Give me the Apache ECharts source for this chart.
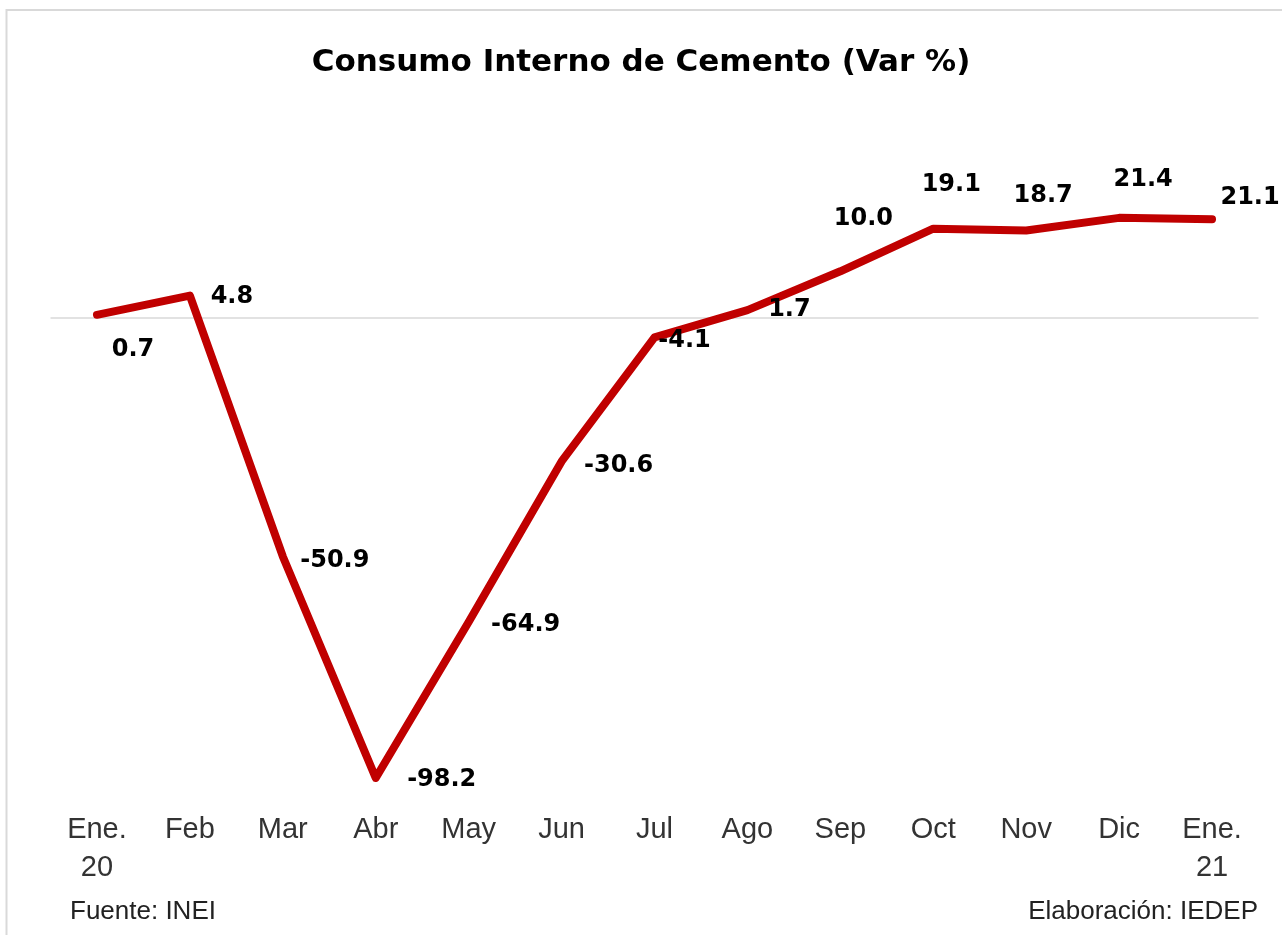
<!DOCTYPE html>
<html>
<head>
<meta charset="utf-8">
<script src="https://cdn.jsdelivr.net/npm/echarts@6/dist/echarts.min.js"></script>
<style>
html,body{margin:0;padding:0;background:#fff;}
#chart{width:1282px;height:935px;}
</style>
</head>
<body>
<div id="chart"></div>
<script>
const titleText = 'Consumo Interno de Cemento (Var %)';
const categories = ['Ene.\n20','Feb','Mar','Abr','May','Jun','Jul','Ago','Sep','Oct','Nov','Dic','Ene.\n21'];
const values = [0.7, 4.8, -50.9, -98.2, -64.9, -30.6, -4.1, 1.7, 10.0, 19.1, 18.7, 21.4, 21.1];
const labelOffsets = [[36,35],[42,1],[52,4],[66,2],[57,3],[57,4],[30,3],[42,0],[23,-52],[18,-44],[17,-35],[24,-38],[38,-22]];
const sourceText = 'Fuente: INEI';
const creditText = 'Elaboración: IEDEP';

const chart = echarts.init(document.getElementById('chart'), null, {renderer:'canvas'});
const seriesData = values.map((v,i)=>({
  value: v,
  label: {offset: labelOffsets[i]}
}));
chart.setOption({
  backgroundColor:'#ffffff',
  animation:false,
  title:{
    text:titleText, left:'center', top:42,
    textStyle:{fontFamily:'DejaVu Sans', fontWeight:'bold', fontSize:31, color:'#000'}
  },
  grid:{left:50.5, right:23.5, top:177.6, bottom:148.6, containLabel:false},
  xAxis:{
    type:'category', data:categories, boundaryGap:true,
    axisLine:{show:false}, axisTick:{show:false},
    axisLabel:{fontFamily:'Liberation Sans', fontSize:29, color:'#333', margin:25, lineHeight:38, interval:0}
  },
  yAxis:{
    type:'value', min:-100, max:30,
    axisLine:{show:false}, axisTick:{show:false}, axisLabel:{show:false}, splitLine:{show:false}
  },
  series:[{
    type:'line', data:seriesData,
    symbol:'circle', symbolSize:1, showSymbol:true,
    lineStyle:{color:'#c00000', width:8, cap:'round', join:'round'},
    itemStyle:{color:'#c00000'},
    label:{show:true, position:'inside', align:'center', verticalAlign:'middle',
      fontFamily:'DejaVu Sans', fontWeight:'bold', fontSize:24, color:'#000',
      formatter:p=>p.value.toFixed(1)},
    markLine:{silent:true, symbol:'none', label:{show:false},
      lineStyle:{color:'#d9d9d9', width:1.5, type:'solid'},
      data:[{yAxis:0}], z:1},
    z:3
  }],
  graphic:[
    {type:'rect', shape:{x:6.5, y:10, width:1300, height:1000},
     style:{fill:null, stroke:'#d9d9d9', lineWidth:2}, silent:true},
    {type:'text', left:70, top:899, style:{text:sourceText, font:'26px "Liberation Sans"', fill:'#222'}},
    {type:'text', right:24, top:899, style:{text:creditText, font:'26px "Liberation Sans"', fill:'#222'}}
  ]
});
</script>
</body>
</html>
